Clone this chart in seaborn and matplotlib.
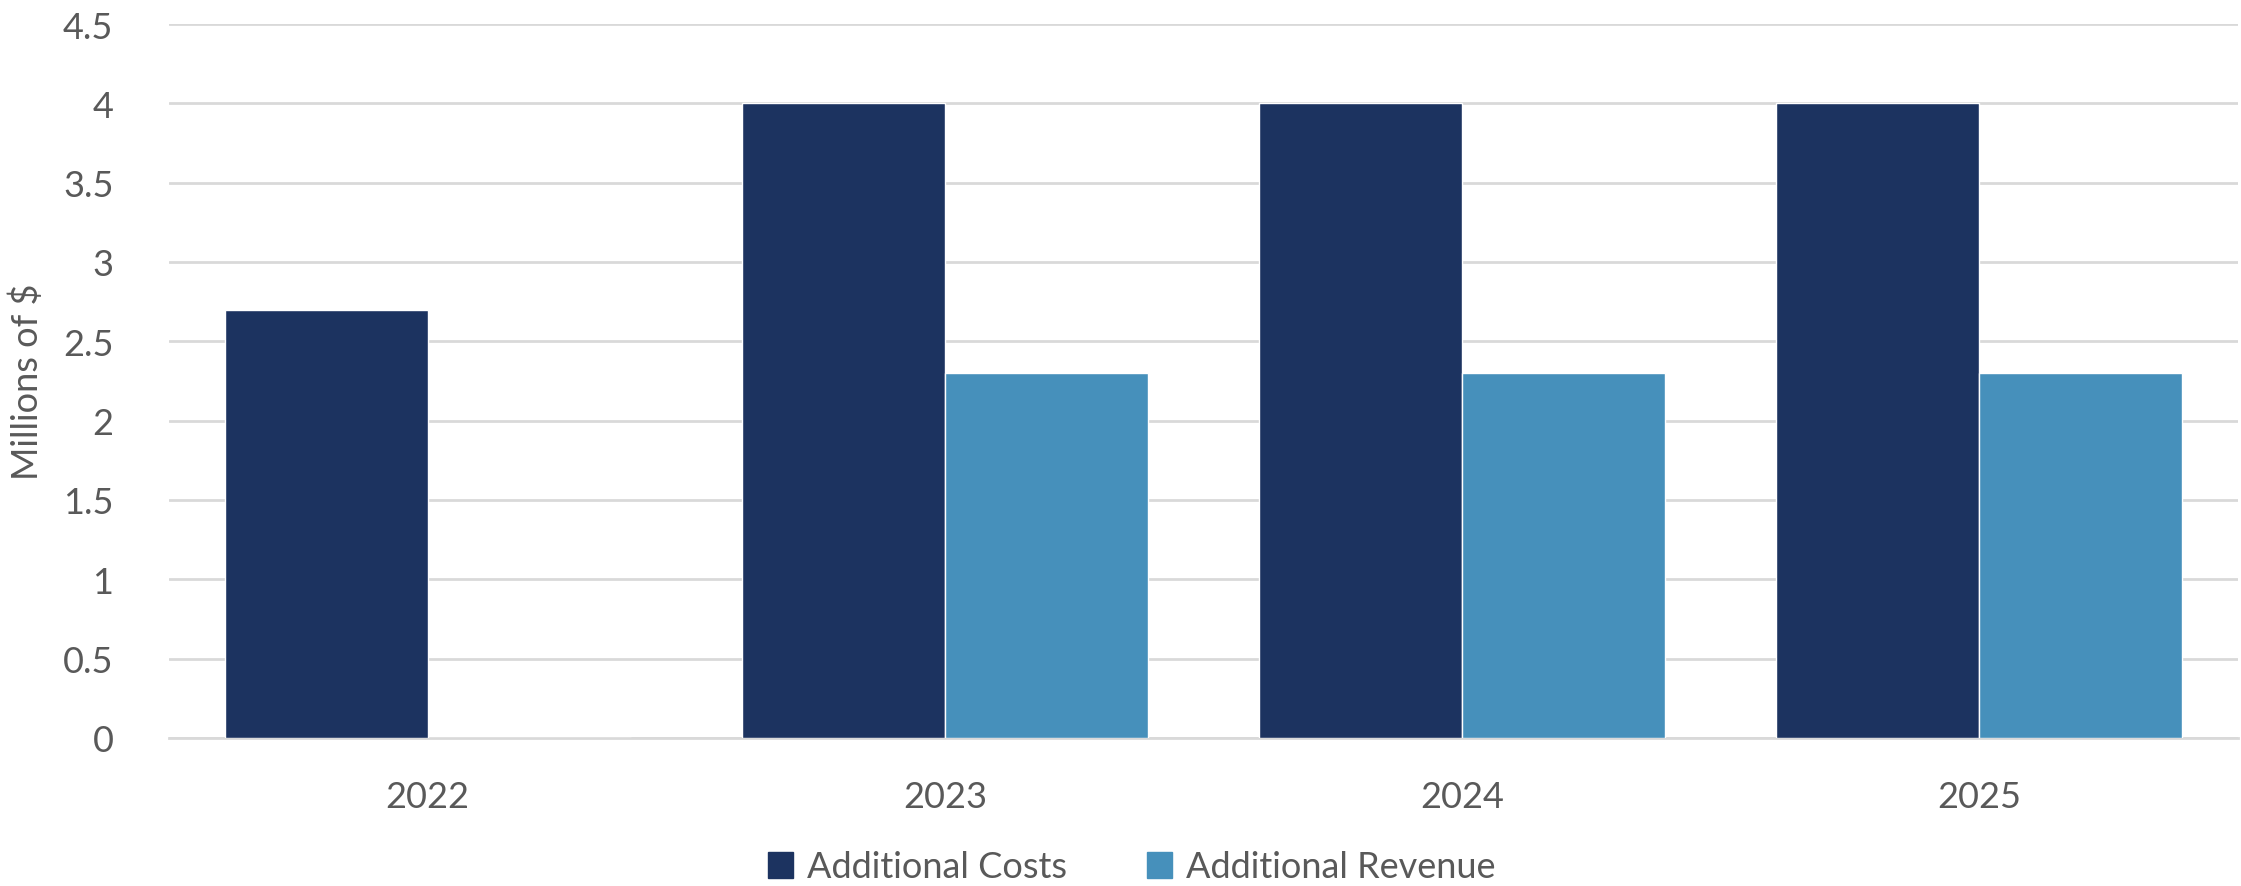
import matplotlib
matplotlib.use("Agg")
import matplotlib.pyplot as plt
import seaborn as sns
import pandas as pd

years = ["2022", "2023", "2024", "2025"]
additional_costs = [2.7, 4.0, 4.0, 4.0]
additional_revenue = [0.0, 2.3, 2.3, 2.3]
series_names = ["Additional Costs", "Additional Revenue"]
y_ticks = [0, 0.5, 1, 1.5, 2, 2.5, 3, 3.5, 4, 4.5]

df = pd.DataFrame({
    "Year": years * 2,
    "Value": additional_costs + additional_revenue,
    "Series": [series_names[0]] * len(years) + [series_names[1]] * len(years),
})

sns.set_style("white")
plt.rcParams["font.family"] = ["Lato", "DejaVu Sans"]
text_color = "#595959"
grid_color = "#D9D9D9"
palette = {series_names[0]: "#1C3360", series_names[1]: "#4690BB"}
fs = 26

W, H = 2241, 887
fig = plt.figure(figsize=(W / 100, H / 100), dpi=100)
ax = fig.add_axes([169 / W, 1 - 739 / H, (2238 - 169) / W, (739 - 25) / H])

sns.barplot(data=df, x="Year", y="Value", hue="Series", palette=palette,
            width=0.785, saturation=1, ax=ax, legend=False, zorder=3)

ax.set_ylim(0, 4.5)
ax.set_yticks(y_ticks)
ax.set_yticklabels([f"{t:g}" for t in y_ticks])
ax.yaxis.grid(True, color=grid_color, linewidth=2, zorder=0)
ax.set_axisbelow(True)
for side in ["top", "right", "left"]:
    ax.spines[side].set_visible(False)
ax.spines["bottom"].set_color(grid_color)
ax.spines["bottom"].set_linewidth(2)
ax.tick_params(axis="both", length=0, labelsize=fs, labelcolor=text_color)
ax.tick_params(axis="y", pad=40)
ax.tick_params(axis="x", pad=30)
ax.set_xlabel("")
ax.set_ylabel("Millions of $", fontsize=fs, color=text_color)
ax.yaxis.set_label_coords(-(169 - 44) / (2238 - 169), 0.5)

handles = [plt.Rectangle((0, 0), 1, 1, color=palette[s]) for s in series_names]
fig.legend(handles, series_names, loc="center", bbox_to_anchor=(0.505, 1 - 868 / H),
           ncol=2, frameon=False, fontsize=fs, labelcolor=text_color,
           handlelength=0.7, handleheight=0.7, handletextpad=0.4, columnspacing=2.2)

fig.savefig("out.png", dpi=100)
